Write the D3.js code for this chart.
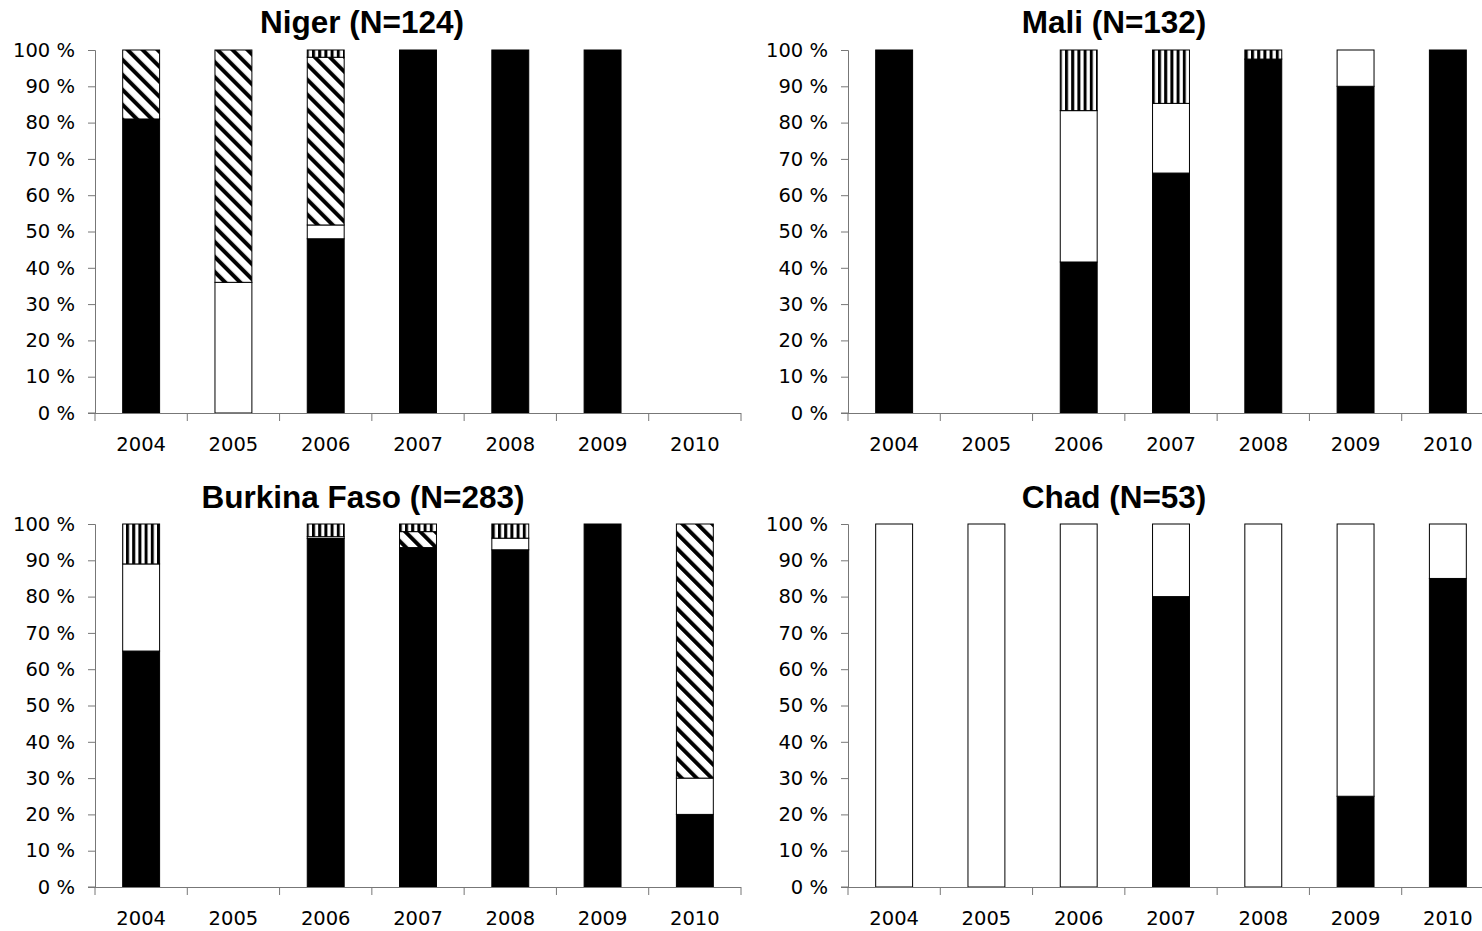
<!DOCTYPE html>
<html>
<head>
<meta charset="utf-8">
<script src="https://cdn.jsdelivr.net/npm/d3@7"></script>
<style>
body { margin: 0; background: #fff; }
</style>
</head>
<body>
<script>
// years on the x axis
var years = ["2004", "2005", "2006", "2007", "2008", "2009", "2010"];
var yTicks = [0, 10, 20, 30, 40, 50, 60, 70, 80, 90, 100];
var keys = ["solid", "open", "diag", "vert"];

// percentages per year, bottom to top: solid, open, diagonal hatch, vertical stripes
var nigerSolid = [81, 0, 48, 100, 100, 100, 0];
var nigerOpen  = [0, 36, 3.8, 0, 0, 0, 0];
var nigerDiag  = [19, 64, 46.2, 0, 0, 0, 0];
var nigerVert  = [0, 0, 2, 0, 0, 0, 0];

var maliSolid = [100, 0, 41.6, 66.1, 97.5, 90, 100];
var maliOpen  = [0, 0, 41.7, 19.2, 0, 10, 0];
var maliDiag  = [0, 0, 0, 0, 0, 0, 0];
var maliVert  = [0, 0, 16.7, 14.7, 2.5, 0, 0];

var burkinaSolid = [65, 0, 96, 93.5, 92.9, 100, 20];
var burkinaOpen  = [24, 0, 0.5, 0, 3.2, 0, 10];
var burkinaDiag  = [0, 0, 0, 4.4, 0, 0, 70];
var burkinaVert  = [11, 0, 3.5, 2.1, 3.9, 0, 0];

var chadSolid = [0, 0, 0, 80, 0, 25, 85];
var chadOpen  = [100, 100, 100, 20, 100, 75, 15];
var chadDiag  = [0, 0, 0, 0, 0, 0, 0];
var chadVert  = [0, 0, 0, 0, 0, 0, 0];

function table(s, o, d, v) {
    return years.map(function(y, i) {
        return {year: y, solid: s[i], open: o[i], diag: d[i], vert: v[i]};
    });
}

var panels = [
    {title: "Niger (N=124)", x0: 95, y0: 50, tx: 362, ty: 22, rows: table(nigerSolid, nigerOpen, nigerDiag, nigerVert)},
    {title: "Mali (N=132)", x0: 848, y0: 50, tx: 1114, ty: 22, rows: table(maliSolid, maliOpen, maliDiag, maliVert)},
    {title: "Burkina Faso (N=283)", x0: 95, y0: 524, tx: 363, ty: 497, rows: table(burkinaSolid, burkinaOpen, burkinaDiag, burkinaVert)},
    {title: "Chad (N=53)", x0: 848, y0: 524, tx: 1114, ty: 497, rows: table(chadSolid, chadOpen, chadDiag, chadVert)}
];

var plotW = 646, plotH = 363;

var svg = d3.select("body").append("svg")
    .attr("width", 1482)
    .attr("height", 931)

var defs = svg.append("defs")
var pd = defs.append("pattern")
    .attr("id", "diag")
    .attr("patternUnits", "userSpaceOnUse")
    .attr("width", 10.6)
    .attr("height", 10.6)
    .attr("patternTransform", "rotate(-45)")
pd.append("rect").attr("width", 10.6).attr("height", 10.6).attr("fill", "#fff")
pd.append("rect").attr("width", 4).attr("height", 10.6).attr("fill", "#000")

var pv = defs.append("pattern")
    .attr("id", "vert")
    .attr("patternUnits", "userSpaceOnUse")
    .attr("width", 6.2)
    .attr("height", 10)
pv.append("rect").attr("width", 6.2).attr("height", 10).attr("fill", "#fff")
pv.append("rect").attr("width", 3).attr("height", 10).attr("fill", "#000")

var fills = {solid: "#000", open: "#fff", diag: "url(#diag)", vert: "url(#vert)"};

var stack = d3.stack().keys(keys);

panels.forEach(function(p) {
    var g = svg.append("g").attr("transform", "translate(" + p.x0 + "," + p.y0 + ")")

    var x = d3.scaleBand().domain(years).range([0, plotW]).paddingInner(0.6).paddingOuter(0.3);
    var y = d3.scaleLinear().domain([0, 100]).range([plotH, 0]);

    var series = stack(p.rows);
    g.selectAll("g.layer")
        .data(series)
        .join("g")
        .attr("class", "layer")
        .attr("fill", function(s) { return fills[s.key]; })
        .selectAll("rect")
        .data(function(s) { return s.filter(function(d) { return d[1] - d[0] > 0; }); })
        .join("rect")
        .attr("x", function(d) { return x(d.data.year); })
        .attr("y", function(d) { return y(d[1]); })
        .attr("width", x.bandwidth())
        .attr("height", function(d) { return y(d[0]) - y(d[1]); })
        .attr("stroke", "#000")
        .attr("stroke-width", 1)

    // y axis
    var ya = g.append("g")
        .call(d3.axisLeft(y).tickValues(yTicks).tickSize(7).tickPadding(13)
              .tickFormat(function(d) { return d + " %"; }))
    ya.select(".domain").attr("stroke", "#777").attr("d", "M-7,0.5H0.5V" + plotH + "H-7")

    // x axis: labels under the bars, ticks at the category boundaries
    var xa = g.append("g")
        .attr("transform", "translate(0," + plotH + ")")
        .call(d3.axisBottom(x).tickSize(0).tickPadding(24))
    xa.select(".domain").attr("stroke", "#777").attr("d", "M0,0.5H" + plotW)
    var step = x.step();
    xa.selectAll("line.bound")
        .data(d3.range(years.length + 1))
        .join("line")
        .attr("class", "bound")
        .attr("x1", function(i) { return i * step; })
        .attr("x2", function(i) { return i * step; })
        .attr("y1", 0)
        .attr("y2", 8)
        .attr("stroke", "#777")

    g.selectAll(".tick line").attr("stroke", "#777")
    g.selectAll(".tick text")
        .attr("font-family", "'DejaVu Sans', sans-serif")
        .attr("font-size", 19.5)
        .attr("fill", "#000")

    svg.append("text")
        .attr("x", p.tx)
        .attr("y", p.ty)
        .attr("dy", "0.36em")
        .attr("text-anchor", "middle")
        .attr("font-family", "'Liberation Sans', Arial, sans-serif")
        .attr("font-weight", "bold")
        .attr("font-size", 31.5)
        .text(p.title)
});
</script>
</body>
</html>
